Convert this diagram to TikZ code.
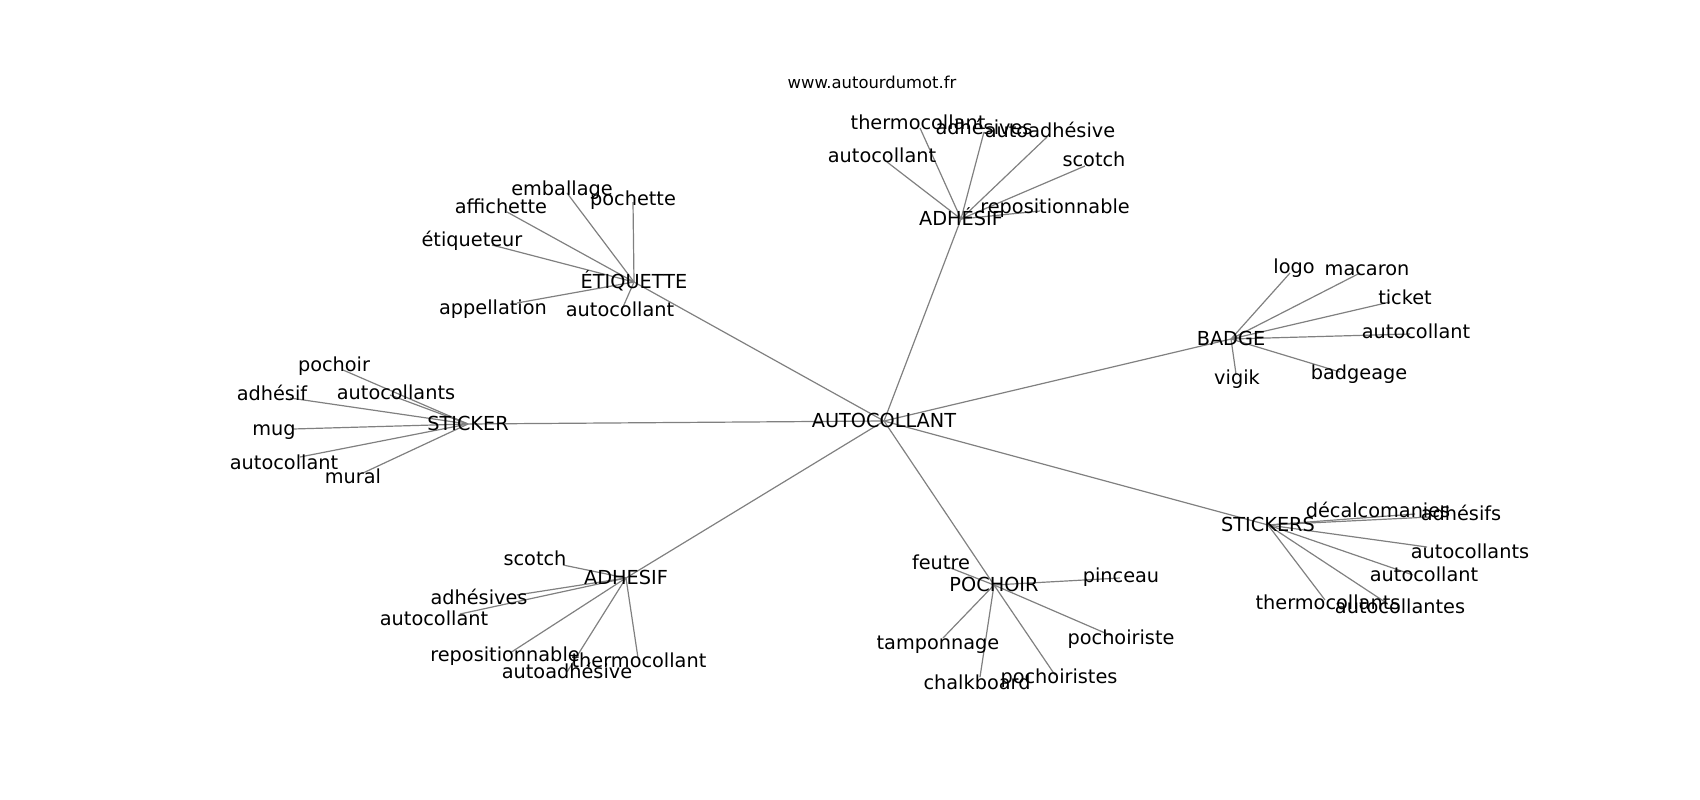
\documentclass[tikz,border=0pt]{standalone}
\usepackage{fontspec}
\setmainfont{DejaVu Sans}
\usetikzlibrary{backgrounds}
\tikzset{
  lbl/.style={inner sep=0pt, text height=0.729em, text depth=0pt, anchor=center, yshift=-3pt, font=\fontsize{19.3}{19.3}\selectfont, text=black},
  urlbl/.style={inner sep=0pt, text height=0.729em, text depth=0pt, anchor=center, yshift=-2pt, font=\fontsize{16.4}{16.4}\selectfont, text=black},
  edge/.style={draw=gray, line width=1.2pt},
}
\newcommand\leafnode[7]{%
  \node[lbl] (#1) at (#3,#4) {#7};
  \coordinate (#1E) at (#5,#6);
  \begin{pgfonlayer}{background}\draw[edge] (#2) -- (#1E);\end{pgfonlayer}%
}
\begin{document}
\begin{tikzpicture}[x=1pt,y=-1pt]
\useasboundingbox (0,0) rectangle (1700,800);
\node[urlbl] (url) at (872,83) {www.autourdumot.fr};
% hub anchor points (edge convergence)
\coordinate (AUTOc) at (884,421);
\coordinate (ETIQc) at (634,282);
\coordinate (ADHAc) at (961,219);
\coordinate (BADGEc) at (1231,339);
\coordinate (STKRc) at (468,424);
\coordinate (STKSc) at (1268,525);
\coordinate (ADHBc) at (626,578);
\coordinate (POCHc) at (994,585);
% hubs
\node[lbl] (AUTO) at (AUTOc) {AUTOCOLLANT};
\node[lbl] (ETIQ) at (ETIQc) {ÉTIQUETTE};
\node[lbl] (ADHA) at (ADHAc) {ADHÉSIF};
\node[lbl] (BADGE) at (BADGEc) {BADGE};
\node[lbl] (STKR) at (STKRc) {STICKER};
\node[lbl] (STKS) at (STKSc) {STICKERS};
\node[lbl] (ADHB) at (ADHBc) {ADHESIF};
\node[lbl] (POCH) at (POCHc) {POCHOIR};
\begin{pgfonlayer}{background}
\draw[edge] (AUTOc) -- (ETIQc);
\draw[edge] (AUTOc) -- (ADHAc);
\draw[edge] (AUTOc) -- (BADGEc);
\draw[edge] (AUTOc) -- (STKRc);
\draw[edge] (AUTOc) -- (STKSc);
\draw[edge] (AUTOc) -- (ADHBc);
\draw[edge] (AUTOc) -- (POCHc);
\end{pgfonlayer}
% ETIQUETTE
\leafnode{ea}{ETIQc}{562}{189}{567}{193}{emballage}
\leafnode{eb}{ETIQc}{633}{199}{633}{202}{pochette}
\leafnode{ec}{ETIQc}{501}{207}{507}{212}{affichette}
\leafnode{ed}{ETIQc}{472}{240}{492}{245}{étiqueteur}
\leafnode{ee}{ETIQc}{493}{308}{517}{303}{appellation}
\leafnode{ef}{ETIQc}{620}{310}{623}{307}{autocollant}
% ADHÉSIF
\leafnode{aa}{ADHAc}{918}{123}{920}{128}{thermocollant}
\leafnode{ab}{ADHAc}{984}{128}{984}{132}{adhésives}
\leafnode{ac}{ADHAc}{1050}{131}{1047}{137}{autoadhésive}
\leafnode{ad}{ADHAc}{882}{156}{887}{162}{autocollant}
\leafnode{ae}{ADHAc}{1094}{160}{1085}{166}{scotch}
\leafnode{af}{ADHAc}{1055}{207}{1040}{211}{repositionnable}
% BADGE
\leafnode{ba}{BADGEc}{1294}{267}{1290}{273}{logo}
\leafnode{bb}{BADGEc}{1367}{269}{1360}{273}{macaron}
\leafnode{bc}{BADGEc}{1405}{298}{1390}{302}{ticket}
\leafnode{bd}{BADGEc}{1416}{332}{1410}{334}{autocollant}
\leafnode{be}{BADGEc}{1237}{378}{1236}{374}{vigik}
\leafnode{bf}{BADGEc}{1359}{373}{1340}{372}{badgeage}
% STICKER
\leafnode{sa}{STKRc}{334}{365}{343}{370}{pochoir}
\leafnode{sb}{STKRc}{396}{393}{390}{395}{autocollants}
\leafnode{sc}{STKRc}{272}{394}{290}{398}{adhésif}
\leafnode{sd}{STKRc}{274}{429}{293}{429}{mug}
\leafnode{se}{STKRc}{284}{463}{300}{457}{autocollant}
\leafnode{sf}{STKRc}{353}{477}{363}{473}{mural}
% STICKERS
\leafnode{ta}{STKSc}{1378}{511}{1415}{514}{décalcomanies}
\leafnode{tb}{STKSc}{1461}{514}{1430}{517}{adhésifs}
\leafnode{tc}{STKSc}{1470}{552}{1427}{547}{autocollants}
\leafnode{td}{STKSc}{1424}{575}{1413}{575}{autocollant}
\leafnode{te}{STKSc}{1328}{603}{1325}{600}{thermocollants}
\leafnode{tf}{STKSc}{1400}{607}{1385}{602}{autocollantes}
% ADHESIF
\leafnode{da}{ADHBc}{535}{559}{563}{565}{scotch}
\leafnode{db}{ADHBc}{479}{598}{517}{595}{adhésives}
\leafnode{dc}{ADHBc}{434}{619}{460}{614}{autocollant}
\leafnode{dd}{ADHBc}{505}{655}{510}{653}{repositionnable}
\leafnode{de}{ADHBc}{567}{672}{567}{672}{autoadhésive}
\leafnode{df}{ADHBc}{639}{661}{638}{658}{thermocollant}
% POCHOIR
\leafnode{pa}{POCHc}{941}{563}{948}{567}{feutre}
\leafnode{pb}{POCHc}{1121}{576}{1120}{578}{pinceau}
\leafnode{pc}{POCHc}{938}{643}{943}{638}{tamponnage}
\leafnode{pd}{POCHc}{1121}{638}{1112}{636}{pochoiriste}
\leafnode{pe}{POCHc}{977}{683}{980}{677}{chalkboard}
\leafnode{pf}{POCHc}{1059}{677}{1055}{675}{pochoiristes}
\end{tikzpicture}
\end{document}
